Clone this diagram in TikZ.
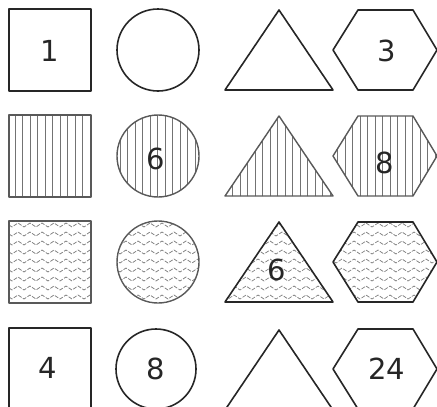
\documentclass[tikz,border=0pt]{standalone}
\usepackage{fontspec}
\setmainfont{DejaVu Sans}
\begin{document}
\begin{tikzpicture}[x=1pt,y=-1pt,
  outline/.style={draw=black!85,line width=1.6pt,line join=round},
  grayline/.style={draw=black!65,line width=1.4pt,line join=round},
  hatch/.style={draw=black!55,line width=0.8pt},
  wave/.style={draw=black!50,line width=0.7pt,dash pattern=on 4pt off 1.5pt},
  num/.style={font=\fontsize{29}{29}\selectfont,text=black!85,inner sep=0pt}]
\useasboundingbox (0,0) rectangle (437,407);
% shape paths as macros
\newcommand\sqpath[1]{(9,#1-41) rectangle (91,#1+41)}
\newcommand\cipath[1]{(158,#1) circle[radius=41]}
\newcommand\tripath[1]{(279,#1-40) -- (333,#1+40) -- (225,#1+40) -- cycle}
\newcommand\hexpath[1]{(333,#1) -- (358,#1-40) -- (413,#1-40) -- (437,#1) -- (413,#1+40) -- (358,#1+40) -- cycle}
\newcommand\vhatch{\foreach \xx in {0,7.5,...,440} {\draw[hatch] (\xx,0) -- (\xx,407);}}
\newcommand\whatch{\foreach \yy in {200,209,...,320} {\draw[wave] (0,\yy) \foreach \xx in {0,12,...,440} {-- (\xx+6,\yy-4) -- (\xx+12,\yy)};}}
% Row 1
\draw[outline] \sqpath{50};
\draw[outline] \cipath{50};
\draw[outline] \tripath{50};
\draw[outline] \hexpath{50};
\node[num] (n1) at (50,51) {1};
\node[num] (n3) at (387,51) {3};
% Row 2: vertical hatching
\begin{scope}\clip \sqpath{156}; \vhatch \end{scope}
\begin{scope}\clip \cipath{156}; \vhatch \end{scope}
\begin{scope}\clip \tripath{156}; \vhatch \end{scope}
\begin{scope}\clip \hexpath{156}; \vhatch \end{scope}
\draw[grayline] \sqpath{156};
\draw[grayline] \cipath{156};
\draw[grayline] \tripath{156};
\draw[grayline] \hexpath{156};
\node[num] (n6a) at (156,159) {6};
\node[num] (n8a) at (385,163) {8};
% Row 3: wavy texture
\begin{scope}\clip \sqpath{262}; \whatch \end{scope}
\begin{scope}\clip \cipath{262}; \whatch \end{scope}
\begin{scope}\clip \tripath{262}; \whatch \end{scope}
\begin{scope}\clip \hexpath{262}; \whatch \end{scope}
\draw[grayline] \sqpath{262};
\draw[grayline] \cipath{262};
\draw[outline] \tripath{262};
\draw[outline] \hexpath{262};
\node[num] (n6b) at (277,270) {6};
% Row 4
\draw[outline] \sqpath{369};
\draw[outline] (156,369) circle[radius=40];
\draw[outline] \tripath{370};
\draw[outline] \hexpath{369};
\node[num] (n4) at (48,368) {4};
\node[num] (n8b) at (156,369) {8};
\node[num] (n24) at (387,369) {24};
\end{tikzpicture}
\end{document}
